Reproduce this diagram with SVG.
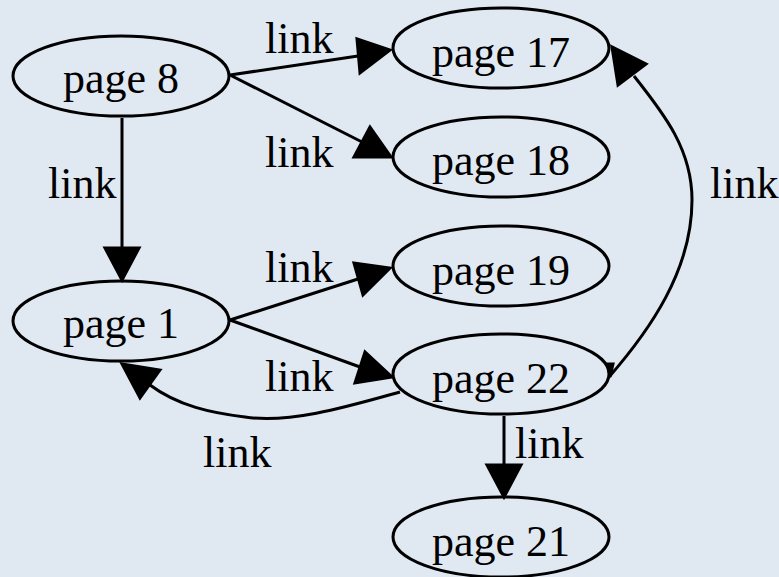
<svg xmlns="http://www.w3.org/2000/svg" width="779" height="577" viewBox="0 0 779 577">
  <style>
    .node ellipse { fill: none; stroke: #000; stroke-width: 3; }
    text { font-family: "Liberation Serif", "Times New Roman", serif; font-size: 44px; fill: #000; }
    .node text { text-anchor: middle; }
    .edge path, .edge line { fill: none; stroke: #000; stroke-width: 3; }
    .edge polygon { fill: #000; stroke: #000; stroke-width: 3; stroke-linejoin: miter; }
  </style>
  <rect x="0" y="0" width="779" height="577" fill="#e0e8f2"/>

  <g id="edges">
    <!-- page 8 -> page 17 -->
    <g class="edge" id="e8_17">
      <line x1="230" y1="75" x2="358" y2="56"/>
      <polygon points="357,39 360,73 390,50"/>
      <text x="265" y="53">link</text>
    </g>
    <!-- page 8 -> page 18 -->
    <g class="edge" id="e8_18">
      <line x1="230" y1="75" x2="362" y2="142"/>
      <polygon points="370,127 354,157 391,157"/>
      <text x="265" y="167">link</text>
    </g>
    <!-- page 8 -> page 1 -->
    <g class="edge" id="e8_1">
      <line x1="122" y1="118" x2="122" y2="248"/>
      <polygon points="105,248 139,248 122,280"/>
      <text x="48" y="198">link</text>
    </g>
    <!-- page 1 -> page 19 -->
    <g class="edge" id="e1_19">
      <line x1="230" y1="320" x2="358" y2="279"/>
      <polygon points="354,263 363,295 390,268"/>
      <text x="265" y="282">link</text>
    </g>
    <!-- page 1 -> page 22 -->
    <g class="edge" id="e1_22">
      <line x1="230" y1="320" x2="360" y2="367"/>
      <polygon points="365,352 355,383 392,377"/>
      <text x="265" y="391">link</text>
    </g>
    <!-- page 22 -> page 1 -->
    <g class="edge" id="e22_1">
      <path d="M400,392 C350,406 290,424 245,417 C212,413 178,406 150,385"/>
      <polygon points="160,370 140,398 122,364"/>
      <text x="203" y="467">link</text>
    </g>
    <!-- page 22 -> page 21 -->
    <g class="edge" id="e22_21">
      <line x1="504" y1="416" x2="504" y2="465"/>
      <polygon points="487,465 521,465 504,497"/>
      <text x="515" y="458">link</text>
    </g>
    <!-- page 22 -> page 17 -->
    <g class="edge" id="e22_17">
      <polygon points="608,364 613,364 610,377"/>
      <path d="M609,377 C650,330 692,270 692,200 C692,150 665,115 634,76"/>
      <polygon points="646,64 618,85 612,47"/>
      <text x="710" y="198">link</text>
    </g>
  </g>

  <g id="page8" class="node">
    <ellipse cx="121" cy="76" rx="108" ry="40"/>
    <text x="121" y="93">page 8</text>
  </g>
  <g id="page17" class="node">
    <ellipse cx="501" cy="48" rx="108" ry="40"/>
    <text x="501" y="67">page 17</text>
  </g>
  <g id="page18" class="node">
    <ellipse cx="501" cy="157" rx="108" ry="40"/>
    <text x="501" y="175">page 18</text>
  </g>
  <g id="page19" class="node">
    <ellipse cx="501" cy="266" rx="108" ry="40"/>
    <text x="501" y="285">page 19</text>
  </g>
  <g id="page1" class="node">
    <ellipse cx="121" cy="321" rx="108" ry="40"/>
    <text x="121" y="338">page 1</text>
  </g>
  <g id="page22" class="node">
    <ellipse cx="501" cy="374" rx="108" ry="40"/>
    <text x="501" y="393">page 22</text>
  </g>
  <g id="page21" class="node">
    <ellipse cx="501" cy="537" rx="108" ry="40"/>
    <text x="501" y="556">page 21</text>
  </g>
</svg>
